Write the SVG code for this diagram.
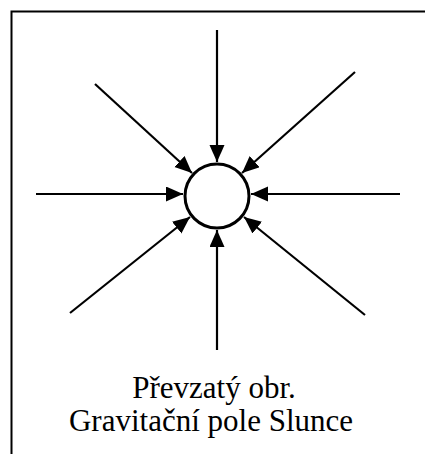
<svg xmlns="http://www.w3.org/2000/svg" width="425" height="454" viewBox="0 0 425 454">
<style>
.ln{stroke:#000;stroke-width:2.2;fill:none;marker-end:url(#ah)}
.t{font-family:"Liberation Serif","Times New Roman",serif;font-size:31px;fill:#000;text-anchor:middle}
</style>
<defs>
<marker id="ah" markerUnits="userSpaceOnUse" markerWidth="20" markerHeight="16" refX="17" refY="7.5" orient="auto">
<path d="M0,0 L17,7.5 L0,15 z" fill="#000"/>
</marker>
</defs>
<rect x="0" y="0" width="425" height="454" fill="#fff"/>
<rect x="11.5" y="11.5" width="430" height="460" fill="none" stroke="#000" stroke-width="2"/>
<g id="connectors">
<line class="ln" x1="217" y1="30" x2="217" y2="162"/>
<line class="ln" x1="217" y1="350" x2="217" y2="230"/>
<line class="ln" x1="36" y1="194" x2="183" y2="194"/>
<line class="ln" x1="400" y1="194" x2="251" y2="194"/>
<line class="ln" x1="95" y1="84" x2="192" y2="173"/>
<line class="ln" x1="355" y1="72" x2="242" y2="173"/>
<line class="ln" x1="70" y1="313" x2="190" y2="217"/>
<line class="ln" x1="365" y1="315" x2="244" y2="217"/>
</g>
<g id="sun">
<circle cx="217" cy="196" r="32" fill="#fff" stroke="#000" stroke-width="3"/>
</g>
<g id="caption">
<text class="t" x="214" y="398">Převzatý obr.</text>
<text class="t" x="211" y="431">Gravitační pole Slunce</text>
</g>
</svg>
